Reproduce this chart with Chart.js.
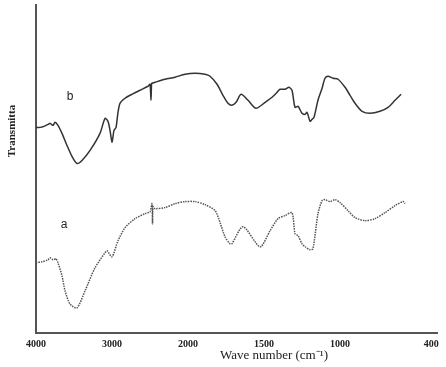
<!DOCTYPE html>
<html>
<head>
<meta charset="utf-8">
<script src="https://cdn.jsdelivr.net/npm/chart.js@4.4.0/dist/chart.umd.min.js"></script>
<style>
  html, body { margin: 0; padding: 0; background: #fff; }
  canvas { display: block; }
</style>
</head>
<body>
<canvas id="ir" width="446" height="367"></canvas>
<script>
// wavenumbers (cm-1) and transmittance (arbitrary units)
var wavenumberB = [4000, 3947, 3895, 3842, 3816, 3776, 3750, 3711, 3658, 3592, 3526, 3461, 3395, 3289, 3158, 3092, 3053, 3026, 3000, 2974, 2947, 2921, 2895, 2829, 2763, 2632, 2526, 2500, 2487, 2480, 2474, 2434, 2302, 2171, 2039, 1954, 1888, 1855, 1809, 1770, 1737, 1711, 1684, 1651, 1605, 1553, 1493, 1447, 1414, 1395, 1362, 1336, 1316, 1296, 1276, 1250, 1230, 1217, 1197, 1184, 1171, 1145, 1118, 1099, 1079, 1046, 1013, 967, 934, 901, 855, 802, 737, 684, 638, 598];
var transB = [205, 205, 206, 208, 209, 207, 210, 207, 199, 187, 176, 169, 172, 182, 199, 214, 211, 202, 190, 202, 205, 220, 229, 234, 237, 242, 246, 248, 232, 248, 249, 250, 253, 255, 258, 259, 258, 256, 248, 237, 229, 227, 230, 238, 232, 224, 230, 235, 240, 243, 243, 245, 242, 225, 226, 219, 218, 220, 211, 213, 215, 232, 244, 254, 256, 254, 253, 245, 237, 229, 221, 219, 221, 225, 232, 238];

var wavenumberA = [4000, 3921, 3842, 3816, 3776, 3737, 3711, 3658, 3618, 3553, 3461, 3355, 3224, 3092, 3066, 3000, 2921, 2829, 2697, 2566, 2500, 2474, 2467, 2460, 2434, 2302, 2171, 2039, 1954, 1888, 1822, 1789, 1757, 1724, 1711, 1638, 1526, 1460, 1408, 1362, 1316, 1296, 1276, 1250, 1230, 1197, 1178, 1145, 1118, 1099, 1066, 1033, 1000, 947, 901, 835, 770, 704, 638, 585, 572];
var transA = [70, 71, 73, 75, 73, 74, 70, 57, 42, 29, 25, 42, 65, 80, 82, 76, 92, 105, 114, 119, 121, 129, 109, 126, 124, 125, 129, 131, 131, 128, 122, 110, 96, 89, 89, 106, 86, 102, 114, 117, 120, 99, 97, 89, 86, 83, 84, 119, 132, 133, 131, 133, 130, 122, 115, 112, 114, 120, 127, 131, 129];

var tickWavenumbers = [4000, 3000, 2000, 1500, 1000, 400];
var xTitle = 'Wave number (cm\u207B\u00B9)';
var yTitle = 'Transmitta';
var curveLabels = ['a', 'b'];

// the axis is drawn at half scale above 2000 cm-1, as in the original
function toAxis(wn) {
  return wn >= 2000 ? (4000 - wn) / 2 : 1000 + (2000 - wn);
}
function fromAxis(u) {
  return u <= 1000 ? 4000 - 2 * u : 2000 - (u - 1000);
}
function points(wns, vals) {
  return wns.map(function (w, i) { return { x: toAxis(w), y: vals[i] }; });
}

var textPlugin = {
  id: 'irText',
  afterDraw: function (chart) {
    var ctx = chart.ctx;
    ctx.save();
    ctx.fillStyle = '#222';
    ctx.textAlign = 'center';
    ctx.textBaseline = 'middle';
    ctx.font = '13px "Liberation Serif", serif';
    ctx.fillText(xTitle, 274, 356);
    ctx.translate(12, 131);
    ctx.rotate(-Math.PI / 2);
    ctx.font = 'bold 11px "Liberation Serif", serif';
    ctx.fillText(yTitle, 0, 0);
    ctx.restore();
    ctx.save();
    ctx.fillStyle = '#222';
    ctx.font = '12px "Liberation Sans", Arial, sans-serif';
    ctx.textAlign = 'center';
    ctx.textBaseline = 'middle';
    ctx.fillText(curveLabels[0], 64, 225);
    ctx.fillText(curveLabels[1], 70, 97);
    ctx.restore();
  }
};

new Chart(document.getElementById('ir'), {
  type: 'line',
  data: {
    datasets: [
      {
        label: 'b',
        data: points(wavenumberB, transB),
        borderColor: '#333',
        borderWidth: 1.5,
        pointRadius: 0,
        tension: 0.25,
        fill: false
      },
      {
        label: 'a',
        data: points(wavenumberA, transA),
        borderColor: '#555',
        borderWidth: 1.5,
        borderDash: [1.5, 1],
        pointRadius: 0,
        tension: 0.25,
        fill: false
      }
    ]
  },
  options: {
    responsive: false,
    animation: false,
    layout: { padding: { left: 28, right: 9, top: 5, bottom: 20 } },
    plugins: {
      legend: { display: false },
      tooltip: { enabled: false }
    },
    scales: {
      x: {
        type: 'linear',
        min: 0,
        max: 2638,
        grid: { display: false },
        border: { display: true, color: '#555', width: 2 },
        afterBuildTicks: function (scale) {
          scale.ticks = tickWavenumbers.map(function (w) { return { value: toAxis(w) }; });
        },
        ticks: {
          autoSkip: false,
          maxRotation: 0,
          padding: -3,
          color: '#222',
          font: { family: '"Liberation Serif", serif', size: 10, weight: 'bold' },
          callback: function (v) { return String(Math.round(fromAxis(v))); }
        }
      },
      y: {
        min: 0,
        max: 327,
        grid: { display: false },
        border: { display: true, color: '#555', width: 2 },
        ticks: { display: false }
      }
    }
  },
  plugins: [textPlugin]
});
</script>
</body>
</html>
